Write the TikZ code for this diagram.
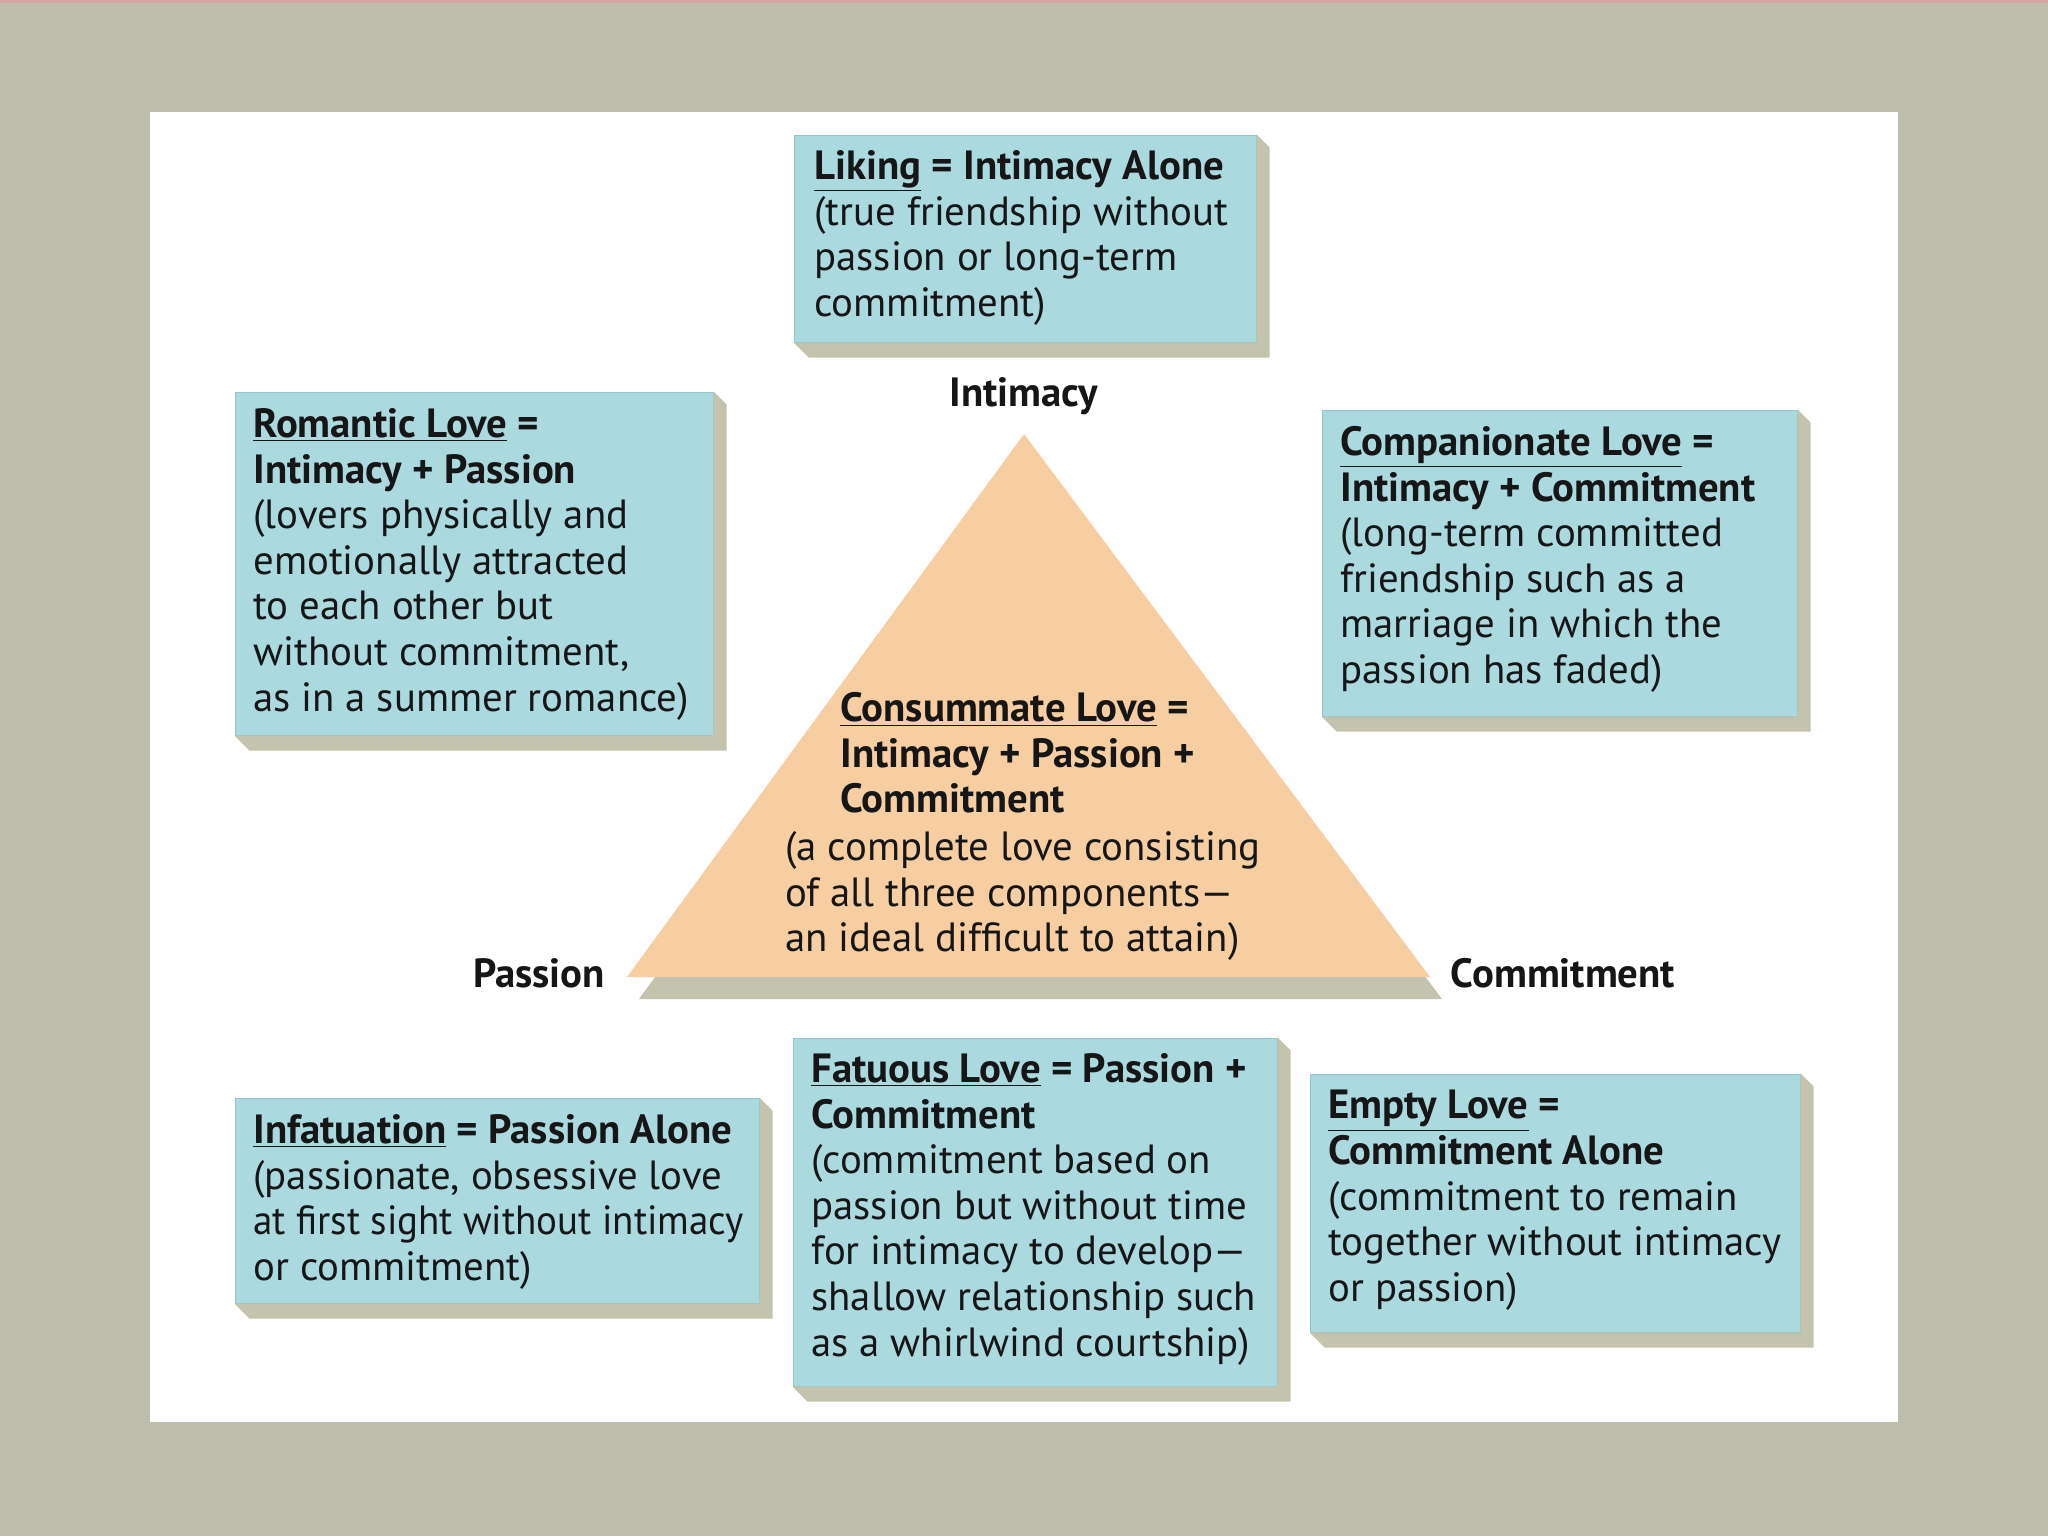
\documentclass[tikz,border=0pt]{standalone}
\usepackage{fontspec}
\usepackage{graphicx}
\setmainfont{PT Sans}
\usetikzlibrary{fit}
\definecolor{bg}{RGB}{189,190,174}
\definecolor{boxfill}{RGB}{170,218,222}
\definecolor{boxedge}{RGB}{150,198,204}
\definecolor{shadowcol}{RGB}{196,196,174}
\definecolor{peach}{RGB}{247,205,162}
\definecolor{ink}{RGB}{22,22,22}
\definecolor{pinkline}{RGB}{214,168,164}
\newcommand\boxshadow[1]{%
  \fill[shadowcol] (#1.north east) -- ([shift={(13,13)}]#1.north east) -- ([shift={(13,15)}]#1.south east)
    -- ([shift={(15,15)}]#1.south west) -- (#1.south west) -- (#1.south east) -- cycle;}
\begin{document}
\begin{tikzpicture}[x=0.5pt,y=-0.5pt,
  lovebox/.style={fill=boxfill,draw=boxedge,line width=0.5pt,inner sep=0pt},
  txt/.style={anchor=north west,inner sep=0pt,align=left,text=ink,
    font=\fontsize{20.4}{22.8}\selectfont},
  lbl/.style={inner sep=0pt,text=ink,font=\fontsize{20.4}{22.8}\selectfont\bfseries}]
\fill[bg] (0,0) rectangle (2048,1536);
\fill[pinkline] (0,0) rectangle (2048,3);
\fill[white] (150,112) rectangle (1898,1422);
\useasboundingbox (0,0) rectangle (2048,1536);

% boxes
\node[lovebox,fit={(794,135) (1256,342)}] (liking) {};
\node[lovebox,fit={(235,392) (713,735)}] (romantic) {};
\node[lovebox,fit={(1322,410) (1797,716)}] (companionate) {};
\node[lovebox,fit={(235,1098) (759,1303)}] (infatuation) {};
\node[lovebox,fit={(793,1038) (1277,1386)}] (fatuous) {};
\node[lovebox,fit={(1310,1074) (1800,1332)}] (empty) {};
\boxshadow{liking}
\boxshadow{romantic}
\boxshadow{companionate}
\boxshadow{infatuation}
\boxshadow{fatuous}
\boxshadow{empty}

% triangle
\coordinate (apex) at (1024,434);
\coordinate (bl) at (627,977);
\coordinate (br) at (1430,977);
\fill[shadowcol] ([shift={(12,22)}]apex) -- ([shift={(12,22)}]bl) -- ([shift={(12,22)}]br) -- cycle;
\fill[peach] (apex) -- (bl) -- (br) -- cycle;

% labels
\node[lbl] (intimacy) at (1024,396) {Intimacy};
\node[lbl] (passion) at (539,973) {Passion};
\node[lbl] (commitment) at (1563,973) {Commitment};

% texts
\node[txt] (likingtxt) at (814,150) {\textbf{\underline{Liking} = Intimacy Alone}\\(true friendship without\\passion or long-term\\commitment)};
\node[txt] (romantictxt) at (253,408) {\textbf{\underline{Romantic Love} =}\\\textbf{Intimacy + Passion}\\(lovers physically and\\emotionally attracted\\to each other but\\without commitment,\\as in a summer romance)};
\node[txt] (companionatetxt) at (1340,426) {\textbf{\underline{Companionate Love} =}\\\textbf{Intimacy + Commitment}\\(long-term committed\\friendship such as a\\marriage in which the\\passion has faded)};
\node[txt] (consA) at (840,692) {\textbf{\underline{Consummate Love} =}\\\textbf{Intimacy + Passion +}\\\textbf{Commitment}};
\node[txt] (consB) at (785,831) {(a complete love consisting\\of all three components---\\an ideal difficult to attain)};
\node[txt] (infatuationtxt) at (253,1114) {\textbf{\underline{Infatuation} = Passion Alone}\\(passionate, obsessive love\\\scalebox{0.955}[1]{at first sight without intimacy}\\or commitment)};
\node[txt] (fatuoustxt) at (811,1053) {\textbf{\underline{Fatuous Love} = Passion +}\\\textbf{Commitment}\\(commitment based on\\passion but without time\\for intimacy to develop---\\shallow relationship such\\as a whirlwind courtship)};
\node[txt] (emptytxt) at (1328,1090) {\textbf{\underline{Empty Love} =}\\\textbf{Commitment Alone}\\(commitment to remain\\together without intimacy\\or passion)};
\end{tikzpicture}
\end{document}
